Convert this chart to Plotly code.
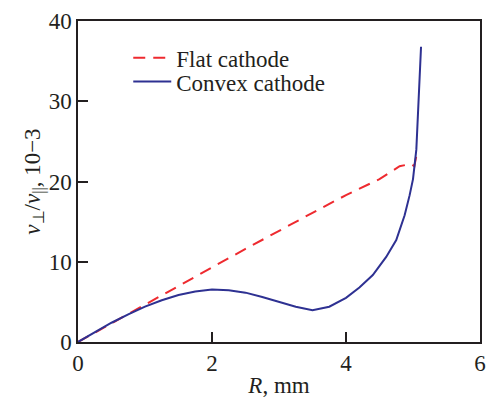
import plotly.graph_objects as go

flat_R = [0, 0.5, 1.0, 1.5, 2.0, 2.5, 3.0, 3.5, 4.0, 4.5, 4.8, 4.97, 5.02, 5.05]
flat_v = [0, 2.35, 4.7, 7.0, 9.3, 11.6, 13.9, 16.1, 18.3, 20.3, 21.9, 22.2, 21.9, 23.2]

convex_R = [0, 0.25, 0.5, 0.75, 1.0, 1.25, 1.5, 1.75, 2.0, 2.25, 2.5, 2.75, 3.0, 3.25,
            3.5, 3.75, 4.0, 4.2, 4.4, 4.6, 4.75, 4.875, 4.95, 5.0, 5.05, 5.12]
convex_v = [0, 1.2, 2.4, 3.45, 4.4, 5.2, 5.85, 6.3, 6.55, 6.45, 6.15, 5.6, 5.0, 4.4,
            3.95, 4.4, 5.5, 6.8, 8.35, 10.6, 12.7, 15.8, 18.3, 20.3, 24.0, 36.8]

x_ticks = [0, 2, 4, 6]
y_ticks = [0, 10, 20, 30, 40]

FONT = "Times New Roman"
TXT = "#231f20"
FS = 23

fig = go.Figure()
fig.add_trace(go.Scatter(x=flat_R, y=flat_v, mode="lines", name="Flat cathode",
                         line=dict(color="#ee2a2f", width=2, dash="12px,8px"),
                         legend="legend", showlegend=True))
fig.add_trace(go.Scatter(x=convex_R, y=convex_v, mode="lines", name="Convex cathode",
                         line=dict(color="#2e3192", width=2), legend="legend2",
                         showlegend=True))

axis_common = dict(showgrid=False, zeroline=False, showline=True, linecolor=TXT,
                   linewidth=1.5, mirror=True, ticks="inside", ticklen=10, tickwidth=1.5,
                   tickcolor=TXT, tickfont=dict(family=FONT, size=FS, color=TXT))

fig.update_xaxes(range=[0, 6], tickvals=x_ticks, **axis_common,
                 title=dict(text="<i>R</i>, mm", font=dict(family=FONT, size=FS, color=TXT),
                            standoff=2))
fig.update_yaxes(range=[0, 40], tickvals=y_ticks, **axis_common,
                 title=dict(text="<i>v</i><sub>⊥</sub>/<i>v</i><sub>||</sub>, 10−3",
                            font=dict(family=FONT, size=FS, color=TXT), standoff=2))

leg = dict(xanchor="left", yanchor="middle", bgcolor="rgba(0,0,0,0)",
           font=dict(family=FONT, size=FS, color=TXT), itemwidth=38, visible=True)
fig.update_layout(
    width=492, height=400,
    margin=dict(l=78, r=6, t=21, b=56),
    paper_bgcolor="white", plot_bgcolor="white",
    font=dict(family=FONT, color=TXT),
    showlegend=True,
    legend=dict(x=0.125, y=(344 - 58) / 323, **leg),
    legend2=dict(x=0.125, y=(344 - 82) / 323, **leg),
)

fig.write_html("out.html")
